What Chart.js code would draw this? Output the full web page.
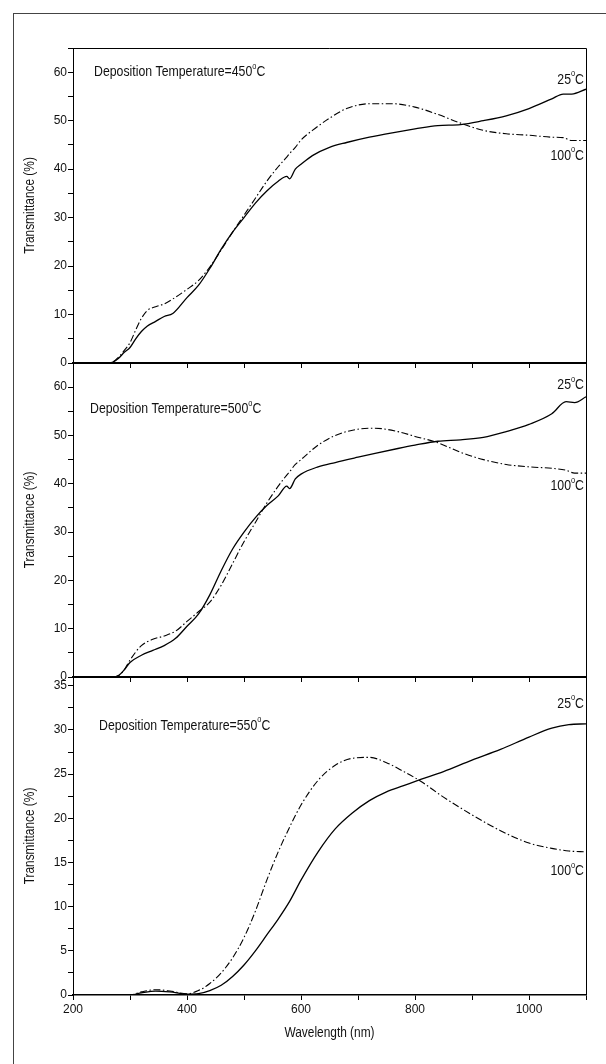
<!DOCTYPE html>
<html lang="en">
<head>
<meta charset="UTF-8">
<title>Transmittance vs wavelength</title>
<script src="https://cdn.jsdelivr.net/npm/chart.js"></script>
<style>
    body { margin: 0; background: #fff; }
    #wrap { position: relative; width: 606px; height: 1064px; overflow: hidden; }
    #frame { position: absolute; left: 13px; top: 13px; width: 620px; height: 1080px; border-left: 1px solid #444; border-top: 1px solid #444; }
    canvas { position: absolute; left: 0; }
</style>
</head>
<body>
<div id="wrap">
    <div id="frame"></div>
    <canvas id="c1" width="606" height="372" style="top:0px"></canvas>
    <canvas id="c2" width="606" height="346" style="top:340px"></canvas>
    <canvas id="c3" width="606" height="414" style="top:650px"></canvas>
</div>
<script>
// Deposition 450 C
const wl450 = [200, 260, 270, 280, 290, 300, 310, 320, 330, 345, 360, 375, 400, 420, 440, 460, 480, 500, 520, 540, 560, 575, 580, 590, 600, 620, 650, 680, 720, 760, 800, 840, 880, 920, 960, 1000, 1040, 1060, 1075, 1100];
const t25_450 = [0, 0, 0.2, 1.0, 2.2, 3.2, 5.0, 6.5, 7.6, 8.6, 9.6, 10.2, 13.5, 16, 19.5, 23.5, 27, 30, 33, 35.5, 37.5, 38.5, 38.0, 40.0, 41, 42.8, 44.5, 45.5, 46.6, 47.5, 48.3, 49, 49.2, 50.0, 51.0, 52.5, 54.5, 55.5, 55.5, 56.5];
const t100_450 = [0, 0, 0.2, 1.2, 2.6, 4.2, 6.8, 9.2, 10.8, 11.6, 12.2, 13.2, 15.2, 17, 19.8, 23.3, 27, 30.5, 34, 37.5, 40.5, 42.5, 43.2, 44.5, 46, 48, 50.5, 52.5, 53.5, 53.5, 52.8, 51.3, 49.5, 48.0, 47.3, 47.0, 46.6, 46.5, 45.9, 45.9];

// Deposition 500 C
const wl500 = [200, 270, 280, 290, 300, 320, 340, 360, 380, 400, 420, 440, 460, 480, 500, 520, 540, 560, 575, 580, 590, 600, 630, 660, 700, 730, 770, 800, 840, 880, 920, 960, 1000, 1040, 1065, 1080, 1100];
const t25_500 = [0, 0, 0.3, 1.5, 3, 4.5, 5.5, 6.5, 8, 10.5, 13, 17, 22, 26.5, 30, 33, 35.5, 37.5, 39.5, 39, 41, 42, 43.5, 44.4, 45.5, 46.3, 47.3, 48, 48.8, 49.1, 49.6, 50.8, 52.3, 54.5, 57, 56.8, 58];
const t100_500 = [0, 0, 0.3, 1.5, 3.5, 6.5, 7.8, 8.5, 9.5, 11.5, 13.5, 15.5, 19, 23.5, 28, 32, 36, 39.5, 41.8, 42.5, 44, 45, 48, 50, 51.3, 51.5, 50.8, 49.8, 48.5, 46.5, 45, 44, 43.5, 43.2, 42.8, 42.2, 42.2];

// Deposition 550 C
const wl550 = [200, 300, 320, 345, 370, 400, 420, 440, 460, 480, 500, 520, 540, 560, 580, 600, 630, 660, 690, 720, 750, 780, 810, 850, 900, 950, 1000, 1040, 1070, 1100];
const t25_550 = [0, 0, 0.25, 0.45, 0.35, 0.1, 0.15, 0.5, 1.1, 2.1, 3.4, 5.0, 6.8, 8.6, 10.6, 13.0, 16.2, 18.8, 20.6, 22.0, 23.0, 23.7, 24.4, 25.3, 26.6, 27.8, 29.2, 30.2, 30.6, 30.7];
const t100_550 = [0, 0, 0.35, 0.6, 0.45, 0.15, 0.5, 1.3, 2.5, 4.2, 6.5, 9.5, 13, 16.2, 19, 21.5, 24.3, 26, 26.8, 26.9, 26.3, 25.3, 24.2, 22.4, 20.4, 18.6, 17.2, 16.6, 16.3, 16.2];

const FONT = '"Liberation Sans", Arial, sans-serif';
const NARROW = 0.82;   // squeeze factor, the original uses a narrow face

function pts(xs, ys) {
    return xs.map((x, i) => ({ x: x, y: ys[i] }));
}

// narrow text with a raised small "o" as degree sign
function drawDeg(ctx, before, x, y, align, size) {
    ctx.save();
    ctx.font = size + 'px ' + FONT;
    const w1 = ctx.measureText(before).width;
    const w3 = ctx.measureText('C').width;
    ctx.font = (size * 0.6) + 'px ' + FONT;
    const w2 = ctx.measureText('o').width;
    const total = (w1 + w2 + w3) * NARROW;
    const sx = align === 'right' ? x - total : x;
    ctx.translate(sx, y);
    ctx.scale(NARROW, 1);
    ctx.textBaseline = 'middle';
    ctx.textAlign = 'left';
    ctx.font = size + 'px ' + FONT;
    ctx.fillText(before, 0, 0);
    ctx.font = (size * 0.6) + 'px ' + FONT;
    ctx.fillText('o', w1, -size * 0.38);
    ctx.font = size + 'px ' + FONT;
    ctx.fillText('C', w1 + w2, 0);
    ctx.restore();
}

function drawNarrow(ctx, str, x, y, size, rot) {
    ctx.save();
    ctx.translate(x, y);
    ctx.rotate(rot);
    ctx.scale(NARROW, 1);
    ctx.font = size + 'px ' + FONT;
    ctx.textAlign = 'center';
    ctx.textBaseline = 'middle';
    ctx.fillText(str, 0, 0);
    ctx.restore();
}

const panelPlugin = {
    id: 'panel',
    afterDraw(chart, args, opts) {
        const ctx = chart.ctx;
        const a = chart.chartArea;
        const ys = chart.scales.y;
        ctx.save();
        ctx.strokeStyle = '#000';
        ctx.lineWidth = 1;
        ctx.beginPath();
        ctx.moveTo(a.left, a.top + 0.5);
        ctx.lineTo(a.right + 0.5, a.top + 0.5);
        ctx.lineTo(a.right + 0.5, a.bottom);
        ctx.stroke();
        ctx.fillStyle = '#111';
        (opts.labels || []).forEach(l => {
            drawDeg(ctx, l.text, l.x, ys.getPixelForValue(l.y), l.align, 15);
        });
        drawNarrow(ctx, 'Transmittance (%)', 30, (a.top + a.bottom) / 2, 14.5, -Math.PI / 2);
        if (opts.xTitle) {
            drawNarrow(ctx, opts.xTitle, (a.left + a.right) / 2, chart.height - 31, 14.5, 0);
        }
        ctx.restore();
    }
};

function makeChart(id, xs, s25, s100, yMax, yStep, yLabelStep, yLabelMax, padTop, xHeight, showX, labels, bottomWidth) {
    return new Chart(document.getElementById(id), {
        type: 'line',
        data: {
            datasets: [
                { label: '25°C', data: pts(xs, s25), borderColor: '#000', borderWidth: 1.3, pointRadius: 0, cubicInterpolationMode: 'monotone', fill: false },
                { label: '100°C', data: pts(xs, s100), borderColor: '#000', borderWidth: 1.1, borderDash: [7, 2.5, 1.5, 2.5], pointRadius: 0, cubicInterpolationMode: 'monotone', fill: false }
            ]
        },
        options: {
            responsive: false,
            animation: false,
            events: [],
            layout: { padding: { left: 20, right: 20, top: padTop, bottom: 0 } },
            plugins: {
                legend: { display: false }, tooltip: { enabled: false },
                panel: { labels: labels, xTitle: showX ? 'Wavelength (nm)' : null }
            },
            scales: {
                x: {
                    type: 'linear', min: 200, max: 1100,
                    afterFit: s => { s.height = xHeight; },
                    border: { display: true, color: '#000', width: bottomWidth },
                    grid: { drawOnChartArea: false, drawTicks: true, tickLength: 5, color: '#000', tickWidth: 1 },
                    ticks: {
                        stepSize: 100, padding: 2, color: '#111', maxRotation: 0, autoSkip: false,
                        font: { family: FONT, size: 12 },
                        callback: v => (showX && v % 200 === 0 && v <= 1000) ? String(v) : ''
                    }
                },
                y: {
                    min: 0, max: yMax,
                    afterFit: s => { s.width = 53; },
                    border: { display: true, color: '#000', width: 1 },
                    grid: { drawOnChartArea: false, drawTicks: true, tickLength: 5, color: '#000', tickWidth: 1 },
                    ticks: {
                        stepSize: yStep, includeBounds: false, padding: 1, color: '#111',
                        font: { family: FONT, size: 12 },
                        callback: v => (Math.abs(v % yLabelStep) < 1e-6 && v <= yLabelMax) ? String(v) : ''
                    }
                }
            }
        },
        plugins: [panelPlugin]
    });
}

makeChart('c1', wl450, t25_450, t100_450, 65, 5, 10, 60, 48, 9, false, [
    { text: 'Deposition Temperature=450', x: 94, y: 60, align: 'left' },
    { text: '25', x: 584, y: 58.5, align: 'right' },
    { text: '100', x: 584, y: 42.8, align: 'right' }
], 2);

makeChart('c2', wl500, t25_500, t100_500, 65, 5, 10, 60, 23, 9, false, [
    { text: 'Deposition Temperature=500', x: 90, y: 55.5, align: 'left' },
    { text: '25', x: 584, y: 60.5, align: 'right' },
    { text: '100', x: 584, y: 39.5, align: 'right' }
], 2);

makeChart('c3', wl550, t25_550, t100_550, 36, 2.5, 5, 35, 27, 69, true, [
    { text: 'Deposition Temperature=550', x: 99, y: 30.5, align: 'left' },
    { text: '25', x: 584, y: 33, align: 'right' },
    { text: '100', x: 584, y: 14, align: 'right' }
], 1.5);
</script>
</body>
</html>
